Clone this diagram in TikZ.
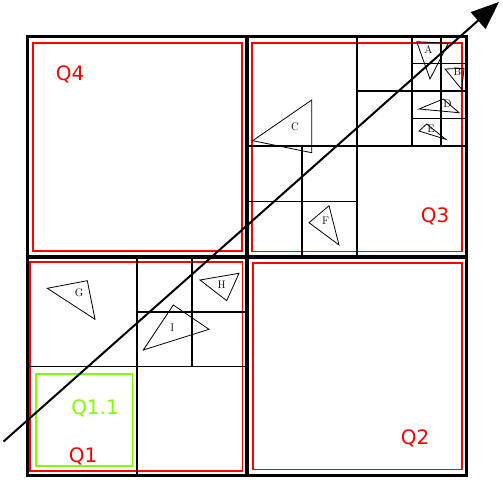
\documentclass[tikz,border=0pt]{standalone}
\usepackage{fontspec}
\newfontfamily\dejavu{DejaVu Sans}
\usetikzlibrary{arrows.meta}
\definecolor{qgreen}{RGB}{128,255,0}
\tikzset{
  frame/.style={draw=black,line width=3bp},
  gridline/.style={draw=black,line width=1.7bp},
  redbox/.style={draw=red,line width=1.5bp},
  greenbox/.style={draw=qgreen,line width=1.5bp},
  tri/.style={draw=black,line width=0.8bp,line join=miter},
  trilabel/.style={inner sep=0pt,font=\fontsize{11}{13}\selectfont},
  qlabel/.style={inner sep=0pt,text=red,font=\dejavu\fontsize{20}{23}\selectfont},
}
\begin{document}
\begin{tikzpicture}[x=1bp,y=-1bp]
\useasboundingbox (0,0) rectangle (503,482);
% red boxes
\draw[redbox] (33,43) rectangle (242,251);
\draw[redbox] (252,43) rectangle (462,251.5);
\draw[redbox] (30,262) rectangle (242.5,471);
\draw[redbox] (253,263) rectangle (462,469.5);
% green box
\draw[greenbox] (36,374) rectangle (132.5,466);
% Q3 grid
\draw[gridline] (357,37) -- (357,257);
\draw[gridline] (247,146) -- (466,146);
\draw[gridline] (412,37) -- (412,146);
\draw[gridline] (357,91) -- (466,91);
\draw[gridline] (441,37) -- (441,146);
\draw[gridline] (412,63.5) -- (466,63.5);
\draw[gridline] (412,118.5) -- (466,118.5);
\draw[gridline] (302,146) -- (302,257);
\draw[gridline] (247,201.5) -- (357,201.5);
% Q1 grid
\draw[gridline] (137,257) -- (137,475);
\draw[gridline] (27,366.5) -- (247,366.5);
\draw[gridline] (192,257) -- (192,366.5);
\draw[gridline] (137,312) -- (247,312);
% frame
\draw[frame] (27,37) rectangle (466,475);
\draw[draw=black,line width=4bp] (247,37) -- (247,475);
\draw[draw=black,line width=4bp] (27,257) -- (466,257);
% triangles
\draw[tri] (416.7,41.7) -- (448.3,43.3) -- (430,79) -- cycle;
\node[trilabel] (A) at (428.3,50) {A};
\draw[tri] (445,69) -- (464,68.3) -- (461.7,89.3) -- cycle;
\node[trilabel] (B) at (457.5,72) {B};
\draw[tri] (419,109) -- (443.3,99) -- (459,112.7) -- cycle;
\node[trilabel] (D) at (447.5,104) {D};
\draw[tri] (419,131) -- (426.7,124) -- (445.7,139.3) -- cycle;
\node[trilabel] (E) at (431,128.5) {E};
\draw[tri] (252.7,140.7) -- (311.7,100) -- (311.7,152.7) -- cycle;
\node[trilabel] (C) at (295,126.5) {C};
\draw[tri] (309,222.7) -- (329,205.7) -- (339,245) -- cycle;
\node[trilabel] (F) at (325.7,221) {F};
\draw[tri] (47.3,288.3) -- (87.3,280.7) -- (95,319.3) -- cycle;
\node[trilabel] (G) at (79,292.5) {G};
\draw[tri] (200,280) -- (239,273.3) -- (226.7,300.7) -- cycle;
\node[trilabel] (H) at (221.7,285) {H};
\draw[tri] (173.3,305) -- (209,329.3) -- (143.3,350) -- cycle;
\node[trilabel] (I) at (172.3,327.3) {I};
% quadrant labels
\node[qlabel] (Q4) at (70,74) {Q4};
\node[qlabel] (Q3) at (435,216) {Q3};
\node[qlabel] (Q2) at (415,438) {Q2};
\node[qlabel] (Q1) at (83,456) {Q1};
\node[qlabel,text=qgreen] (Q11) at (95,408) {Q1.1};
% arrow
\coordinate (s) at (3.5,441.5);
\coordinate (t) at (499,2);
\draw[line width=2bp,-{Triangle[length=28bp,width=22bp]}] (s) -- (t);
\end{tikzpicture}
\end{document}
